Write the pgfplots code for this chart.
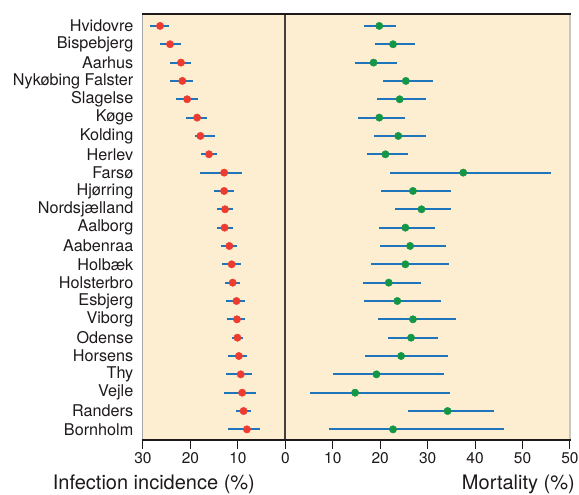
\documentclass[border=0pt]{standalone}
\usepackage{fontspec}
\setmainfont{TeX Gyre Heros}
\usepackage{pgfplots}
\pgfplotsset{compat=1.18}
\usepackage{pgfplotstable}
\definecolor{bg}{RGB}{253,238,210}
\definecolor{dotred}{RGB}{237,59,47}
\definecolor{dotgreen}{RGB}{20,150,70}
\definecolor{barblue}{RGB}{31,117,188}
\definecolor{textc}{RGB}{30,26,27}
\definecolor{zeroline}{RGB}{70,62,62}

% incidence (%): value, lower, upper
\pgfplotstableread{
y v lo hi
1 26.4 24.6 28.5
2 24.3 21.9 26.4
3 22.0 19.8 24.4
4 21.7 19.4 24.3
5 20.7 18.5 23.0
6 18.6 16.5 20.9
7 17.9 14.8 19.0
8 16.1 14.4 17.7
9 12.9 9.2 17.9
10 12.9 10.9 15.0
11 12.7 11.1 14.5
12 12.8 11.1 14.5
13 11.8 10.1 13.6
14 11.3 9.4 13.4
15 11.1 9.6 12.7
16 10.3 8.5 12.4
17 10.2 8.5 12.2
18 10.1 9.0 11.3
19 9.8 8.1 12.0
20 9.4 7.0 12.4
21 9.1 6.2 13.0
22 8.8 7.3 10.5
23 8.1 5.3 12.0
}\inc

% mortality (%): value, lower, upper
\pgfplotstableread{
y v lo hi
1 19.8 16.6 23.4
2 22.7 18.9 27.3
3 18.6 14.7 23.6
4 25.4 20.5 31.1
5 24.1 19.3 29.6
6 19.8 15.3 25.3
7 23.8 18.7 29.7
8 21.1 17.2 25.9
9 37.5 22.1 56.0
10 26.9 20.2 35.0
11 28.7 23.2 35.0
12 25.3 19.8 31.6
13 26.3 20.0 33.9
14 25.3 18.1 34.4
15 21.8 16.4 28.6
16 23.6 16.6 32.8
17 26.9 19.5 36.0
18 26.5 21.7 32.1
19 24.4 16.8 34.2
20 19.2 10.0 33.5
21 14.7 5.2 34.7
22 34.2 25.9 43.9
23 22.7 9.2 46.0
}\mort

\begin{document}
\begin{tikzpicture}
\useasboundingbox (-143pt,-55pt) rectangle (436pt,440pt);
\begin{axis}[
  at={(0pt,0pt)}, anchor=south west,
  scale only axis, width=427pt, height=426pt,
  xmin=-30, xmax=60, ymin=0.35, ymax=23.58, y dir=reverse,
  axis background/.style={fill=bg},
  axis line style={draw=none},
  xtick={-30,-20,...,60},
  xticklabels={30,20,10,0,10,20,30,40,50,50},
  ytick={1,...,23},
  yticklabels={Hvidovre,Bispebjerg,Aarhus,Nykøbing Falster,Slagelse,Køge,Kolding,Herlev,Farsø,Hjørring,Nordsjælland,Aalborg,Aabenraa,Holbæk,Holsterbro,Esbjerg,Viborg,Odense,Horsens,Thy,Vejle,Randers,Bornholm},
  xtick pos=bottom, ytick pos=left,
  tick align=outside, major tick length=9pt,
  xtick style={line width=1pt, color=textc},
  ytick style={draw=none},
  xticklabel style={font=\fontsize{15.5}{18}\selectfont, text=textc},
  yticklabel style={font=\fontsize{16.2}{18}\selectfont, text=textc, inner sep=0.5pt},
  clip=false,
]
\draw[color=zeroline, line width=2pt] (axis cs:0,0.35) -- (axis cs:0,23.58);
\addplot[only marks, mark=*, mark size=3.7pt, mark options={fill=dotred, draw=dotred},
  error bars/.cd, x dir=both, x explicit, error mark=none,
  error bar style={line width=2pt, color=barblue}]
  table[x expr=-\thisrow{v}, y=y,
        x error minus expr=\thisrow{hi}-\thisrow{v},
        x error plus expr=\thisrow{v}-\thisrow{lo}] {\inc};
\addplot[only marks, mark=*, mark size=3.7pt, mark options={fill=dotgreen, draw=dotgreen},
  error bars/.cd, x dir=both, x explicit, error mark=none,
  error bar style={line width=2pt, color=barblue}]
  table[x=v, y=y,
        x error minus expr=\thisrow{v}-\thisrow{lo},
        x error plus expr=\thisrow{hi}-\thisrow{v}] {\mort};
\end{axis}
\draw[gray!70, line width=1pt] (0pt,0pt) -- (0pt,426pt);
\draw[gray!45, line width=1.5pt] (427pt,0pt) -- (427pt,426pt);
\draw[textc, line width=1.4pt] (-0.5pt,426pt) -- (427.7pt,426pt);
\draw[textc, line width=1.2pt] (-0.5pt,0pt) -- (427.5pt,0pt);
\node[anchor=base west, inner sep=0pt, text=textc, font=\fontsize{20}{24}\selectfont] at (-90.3pt,-50pt) {Infection incidence (\%)};
\node[anchor=base east, inner sep=0pt, text=textc, font=\fontsize{20}{24}\selectfont] at (432pt,-50pt) {Mortality (\%)};
\end{tikzpicture}
\end{document}
